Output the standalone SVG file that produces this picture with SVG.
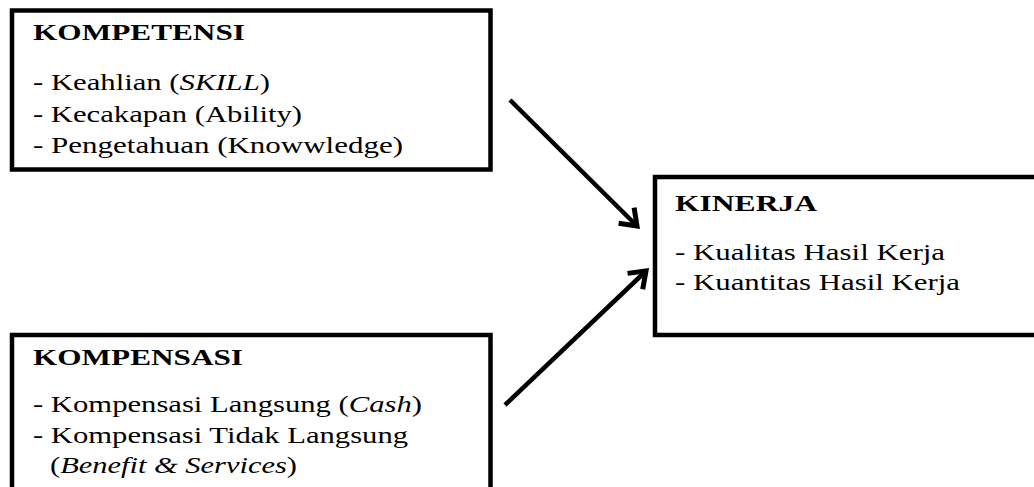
<svg xmlns="http://www.w3.org/2000/svg" width="1034" height="487" viewBox="0 0 1034 487">
  <style>
    .box { fill: #ffffff; stroke: #000000; stroke-width: 4.5; }
    .title { font-family: "Liberation Serif", "Times New Roman", serif; font-weight: bold; font-size: 22.5px; fill: #000000; }
    .item { font-family: "Liberation Serif", "Times New Roman", serif; font-size: 24px; fill: #000000; }
    .it { font-style: italic; }
    .conn { fill: none; stroke: #000000; stroke-width: 4.5; }
  </style>
  <defs>
    <marker id="head" markerUnits="userSpaceOnUse" viewBox="-20 -14 24 28" refX="0" refY="0" markerWidth="24" markerHeight="28" orient="auto">
      <path d="M-15,-11 L0,0 L-15,11" fill="none" stroke="#000000" stroke-width="5" stroke-linejoin="miter" stroke-linecap="butt"/>
    </marker>
  </defs>
  <rect width="1034" height="487" fill="#ffffff"/>

  <g id="kompetensi">
    <rect class="box" x="12" y="10.5" width="478.5" height="159"/>
    <text class="title" x="33" y="40" textLength="212" lengthAdjust="spacingAndGlyphs">KOMPETENSI</text>
    <text class="item" x="33" y="90" textLength="237" lengthAdjust="spacingAndGlyphs">- Keahlian (<tspan class="it">SKILL</tspan>)</text>
    <text class="item" x="33" y="122" textLength="269" lengthAdjust="spacingAndGlyphs">- Kecakapan (Ability)</text>
    <text class="item" x="33" y="153" textLength="370" lengthAdjust="spacingAndGlyphs">- Pengetahuan (Knowwledge)</text>
  </g>

  <g id="kompensasi">
    <rect class="box" x="12" y="335" width="478.5" height="200"/>
    <text class="title" x="33" y="365" textLength="210" lengthAdjust="spacingAndGlyphs">KOMPENSASI</text>
    <text class="item" x="33" y="412" textLength="389" lengthAdjust="spacingAndGlyphs">- Kompensasi Langsung (<tspan class="it">Cash</tspan>)</text>
    <text class="item" x="33" y="443" textLength="375" lengthAdjust="spacingAndGlyphs">- Kompensasi Tidak Langsung</text>
    <text class="item" x="50" y="473" textLength="247" lengthAdjust="spacingAndGlyphs">(<tspan class="it">Benefit &amp; Services</tspan>)</text>
  </g>

  <g id="kinerja">
    <rect class="box" x="655" y="177" width="450" height="158"/>
    <text class="title" x="675" y="211" textLength="142" lengthAdjust="spacingAndGlyphs">KINERJA</text>
    <text class="item" x="675" y="260" textLength="270" lengthAdjust="spacingAndGlyphs">- Kualitas Hasil Kerja</text>
    <text class="item" x="675" y="290" textLength="285" lengthAdjust="spacingAndGlyphs">- Kuantitas Hasil Kerja</text>
  </g>

  <g id="connectors">
    <line class="conn" x1="510" y1="100" x2="637" y2="226" marker-end="url(#head)"/>
    <line class="conn" x1="505" y1="405" x2="646" y2="271" marker-end="url(#head)"/>
  </g>
</svg>
